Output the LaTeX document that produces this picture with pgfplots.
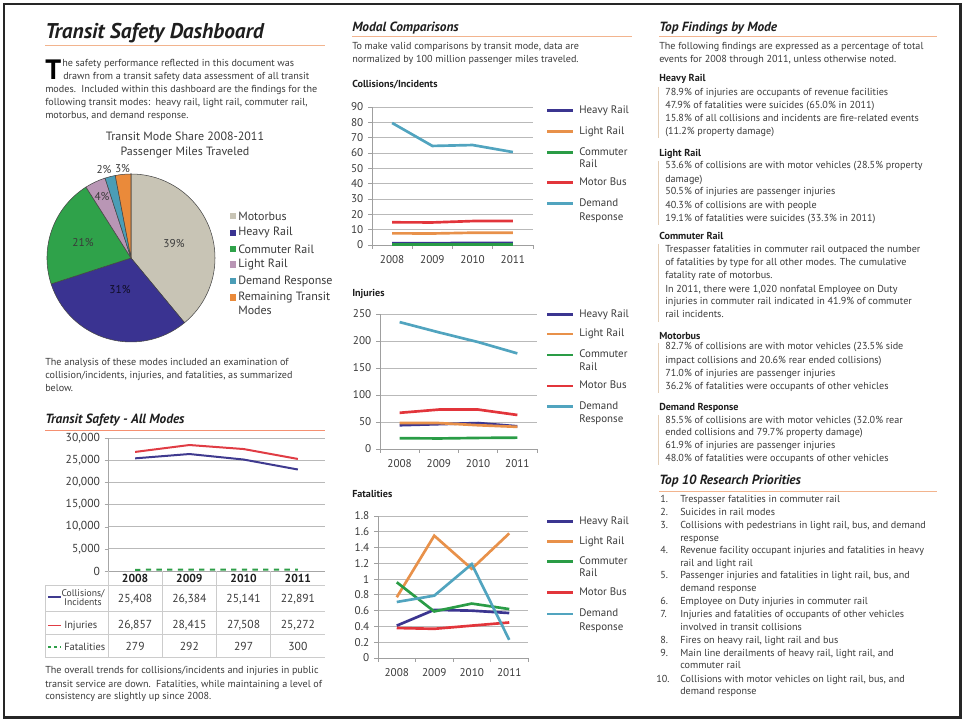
\documentclass[border=0pt]{standalone}
\usepackage{pgfplots}
\pgfplotsset{compat=1.18}
\usepackage{fontspec}
\setmainfont{PT Sans}
\definecolor{txt}{HTML}{3A3A3A}
\definecolor{head}{HTML}{1E1E1E}
\definecolor{rulec}{HTML}{F2B48E}
\definecolor{barc}{HTML}{E3CDB5}
\definecolor{hrc}{HTML}{3B3590}
\definecolor{lrc}{HTML}{E8914A}
\definecolor{crc}{HTML}{2A9C46}
\definecolor{mbc}{HTML}{E2353B}
\definecolor{drc}{HTML}{51A4BF}
\definecolor{pmb}{HTML}{C8C4B5}
\definecolor{phr}{HTML}{3A3391}
\definecolor{pcr}{HTML}{2FA24A}
\definecolor{plr}{HTML}{B996B5}
\definecolor{pdr}{HTML}{4B9DB6}
\definecolor{prm}{HTML}{EA8A3A}
\definecolor{coll}{HTML}{3F3A8F}
\definecolor{inj}{HTML}{E03C44}
\definecolor{fat}{HTML}{2E9E48}
\tikzset{
 body/.style={anchor=base west, inner sep=0pt, font=\fontsize{7.6}{9}\selectfont, text=txt},
 bodyb/.style={anchor=base west, inner sep=0pt, font=\fontsize{7.6}{9}\selectfont\bfseries, text=head},
 sect/.style={anchor=base west, inner sep=0pt, font=\fontsize{10}{12}\selectfont\bfseries\itshape, text=head},
 leg/.style={anchor=base west, inner sep=0pt, font=\fontsize{8.2}{9}\selectfont, text=txt},
}
\newcommand{\tx}[3]{\node[body] at (#1,721-#2) {#3};}
\newcommand{\tb}[3]{\node[bodyb] at (#1,721-#2) {#3};}
\newcommand{\lgl}[2]{\draw[#1, line width=2pt] (547,721-#2) -- (573,721-#2);}
\newcommand{\lgt}[2]{\node[leg] at (579,721-#1-3) {#2};}
\newcommand{\vbar}[2]{\draw[barc, line width=1pt] (658.5,721-#1) -- (658.5,721-#2);}
\pgfplotsset{
 modal/.style={
  scale only axis, anchor=south west,
  xmin=-0.5, xmax=3.5, ymin=0,
  axis x line*=bottom, axis y line*=left,
  axis line style={draw=gray!75, line width=0.6pt},
  ymajorgrids, grid style={draw=gray!55, line width=0.6pt},
  tick align=outside, major tick length=3pt,
  tick style={draw=gray!75, line width=0.6pt},
  xtick={-0.5,0.5,1.5,2.5,3.5}, xticklabels={},
  extra x ticks={0,1,2,3}, extra x tick labels={2008,2009,2010,2011},
  extra x tick style={major tick length=0pt, grid=none, xticklabel style={yshift=-4.5pt}},
  ticklabel style={font=\fontsize{8.4}{9}\selectfont, text=txt},
  /pgf/number format/assume math mode=true,
  every axis plot/.append style={line width=2pt, no markers},
  clip=false,
 }
}
\begin{document}
\begin{tikzpicture}[x=0.75pt,y=0.75pt]
\useasboundingbox (0,0) rectangle (965,721);
\draw[line width=1.6pt, black!85] (4,3.5) rectangle (960.5,717);

% ---------------- Left column ----------------
\node[anchor=base west, inner sep=0pt, font=\fontsize{16}{18}\selectfont\bfseries\itshape, text=head] at (45,721-39) {Transit Safety Dashboard};
\draw[rulec, line width=0.8pt] (45,721-45.5) -- (325,721-45.5);
\node[anchor=base west, inner sep=0pt, font=\fontsize{21}{21}\selectfont\bfseries, text=black] at (45,721-80) {T};
\tx{62}{67}{he safety performance reflected in this document was}
\tx{63}{80}{drawn from a transit safety data assessment of all transit}
\tx{45}{93}{modes.\ \ Included within this dashboard are the findings for the}
\tx{45}{106}{following transit modes:\ \ heavy rail, light rail, commuter rail,}
\tx{45}{119}{motorbus, and demand response.}

\node[anchor=base, inner sep=0pt, font=\fontsize{9}{10}\selectfont, text=txt] at (185,721-141) {Transit Mode Share 2008-2011};
\node[anchor=base, inner sep=0pt, font=\fontsize{9}{10}\selectfont, text=txt] at (185,721-156) {Passenger Miles Traveled};

\begin{axis}[at={(98.25pt,347.25pt)}, anchor=center, scale only axis, width=126pt, height=126pt,
  xmin=-1, xmax=1, ymin=-1, ymax=1, hide axis, clip=false]
\newcommand{\slice}[3]{\filldraw[fill=#3, draw=gray!55!black, line width=0.4pt] (axis cs:0,0) -- ++({90-3.6*#1}:63pt) arc[start angle={90-3.6*#1}, end angle={90-3.6*#2}, radius=63pt] -- cycle;}
\slice{0}{39}{pmb}
\slice{39}{70}{phr}
\slice{70}{91}{pcr}
\slice{91}{95}{plr}
\slice{95}{97}{pdr}
\slice{97}{100}{prm}
\end{axis}
\begin{scope}[every node/.style={font=\fontsize{8.5}{9}\selectfont, text=txt, inner sep=0pt}]
\node at (174,721-244) {39\%};
\node[text=black!75!phr] at (120,721-290) {31\%};
\node at (83,721-243) {21\%};
\node at (102,721-197) {4\%};
\node at (104,721-170) {2\%};
\node at (122.5,721-169) {3\%};
\end{scope}
\begin{scope}[every node/.style={anchor=west, font=\fontsize{9}{10}\selectfont, text=txt, inner sep=0pt}]
\fill[pmb] (229.5,721-219.5) rectangle (236,721-213); \node at (238,721-216) {Motorbus};
\fill[phr] (229.5,721-236.2) rectangle (236,721-229.7); \node at (238,721-232.7) {Heavy Rail};
\fill[pcr] (229.5,721-252.5) rectangle (236,721-246); \node at (238,721-249) {Commuter Rail};
\fill[plr] (229.5,721-268) rectangle (236,721-261.5); \node at (238,721-264.5) {Light Rail};
\fill[pdr] (229.5,721-284.5) rectangle (236,721-278); \node at (238,721-281) {Demand Response};
\fill[prm] (229.5,721-301) rectangle (236,721-294.5); \node at (238,721-297.5) {Remaining Transit};
\node at (238,721-310.5) {Modes};
\end{scope}

\tx{45}{366}{The analysis of these modes included an examination of}
\tx{45}{379}{collision/incidents, injuries, and fatalities, as summarized}
\tx{45}{392}{below.}

\node[sect] at (45,721-424) {Transit Safety - All Modes};
\draw[rulec!80!red, line width=0.7pt] (45,721-430) -- (325,721-430);

\begin{axis}[at={(81pt,112.5pt)}, anchor=south west, scale only axis, width=162.75pt, height=99.75pt,
  xmin=-0.5, xmax=3.5, ymin=0, ymax=30000, ytick={0,5000,...,30000}, scaled y ticks=false,
  yticklabel={\pgfmathprintnumber[fixed,precision=0,1000 sep={,}]{\tick}},
  xtick=\empty, axis x line*=bottom, axis y line*=left,
  axis line style={draw=gray!70, line width=0.6pt},
  ymajorgrids, grid style={draw=gray!55, line width=0.6pt},
  tick align=outside, major tick length=2.5pt, tick style={draw=gray!70},
  ticklabel style={font=\fontsize{8.7}{10}\selectfont, text=txt},
  /pgf/number format/assume math mode=true, clip=false]
\addplot[coll, line width=1.5pt] coordinates {(0,25408)(1,26384)(2,25141)(3,22891)};
\addplot[inj, line width=1.5pt] coordinates {(0,26857)(1,28415)(2,27508)(3,25272)};
\addplot[fat, line width=1.5pt, dash pattern=on 4pt off 4pt] coordinates {(0,279)(1,292)(2,297)(3,300)};
\end{axis}
% table
\begin{scope}[gray!40, line width=0.6pt]
\draw (45,721-585.5) -- (325,721-585.5);
\draw (45,721-611.5) -- (325,721-611.5);
\draw (45,721-634) -- (325,721-634);
\draw (45,721-657.7) -- (325,721-657.7);
\draw (45,721-585.5) -- (45,721-657.7);
\draw (108,721-571) -- (108,721-657.7);
\draw (162.25,721-571) -- (162.25,721-657.7);
\draw (216.5,721-571) -- (216.5,721-657.7);
\draw (270.75,721-571) -- (270.75,721-657.7);
\end{scope}
\begin{scope}[every node/.style={anchor=base, inner sep=0pt, font=\fontsize{8.7}{10}\selectfont, text=txt}]
\node[font=\fontsize{8.7}{10}\selectfont\bfseries, text=head] at (135.1,721-582.5) {2008};
\node[font=\fontsize{8.7}{10}\selectfont\bfseries, text=head] at (189.4,721-582.5) {2009};
\node[font=\fontsize{8.7}{10}\selectfont\bfseries, text=head] at (243.6,721-582.5) {2010};
\node[font=\fontsize{8.7}{10}\selectfont\bfseries, text=head] at (297.9,721-582.5) {2011};
\node at (135.1,721-602.5) {25,408};
\node at (189.4,721-602.5) {26,384};
\node at (243.6,721-602.5) {25,141};
\node at (297.9,721-602.5) {22,891};
\node at (135.1,721-629) {26,857};
\node at (189.4,721-629) {28,415};
\node at (243.6,721-629) {27,508};
\node at (297.9,721-629) {25,272};
\node at (135.1,721-650.5) {279};
\node at (189.4,721-650.5) {292};
\node at (243.6,721-650.5) {297};
\node at (297.9,721-650.5) {300};
\node[font=\fontsize{7.2}{8}\selectfont] at (83,721-597) {Collisions/};
\node[font=\fontsize{7.2}{8}\selectfont] at (83,721-606) {Incidents};
\node[anchor=base west, font=\fontsize{7.8}{9}\selectfont] at (64,721-629) {Injuries};
\node[anchor=base west, font=\fontsize{7.8}{9}\selectfont] at (64,721-650.5) {Fatalities};
\end{scope}
\draw[coll, line width=1.4pt] (48,721-597) -- (61,721-597);
\draw[inj, line width=1.4pt] (48,721-625.5) -- (61,721-625.5);
\draw[fat, line width=1.4pt, dash pattern=on 2.5pt off 2pt] (48,721-646.7) -- (61,721-646.7);

\tx{45}{674}{The overall trends for collisions/incidents and injuries in public}
\tx{45}{687.5}{transit service are down.\ \ Fatalities, while maintaining a level of}
\tx{45}{700}{consistency are slightly up since 2008.}

% ---------------- Middle column ----------------
\node[sect] at (352,721-32) {Modal Comparisons};
\draw[rulec, line width=0.7pt] (352,721-36) -- (632,721-36);
\tx{352}{50}{To make valid comparisons by transit mode, data are}
\tx{352}{63}{normalized by 100 million passenger miles traveled.}
\tb{352}{88}{Collisions/Incidents}

\begin{axis}[modal, at={(279pt,357pt)}, width=120.75pt, height=103.5pt, ymax=90, ytick={0,10,...,90}]
\addplot[hrc] coordinates {(0,1.2)(1,1.2)(2,1.3)(3,1.3)};
\addplot[lrc] coordinates {(0,7.6)(1,7.5)(2,8.0)(3,8.0)};
\addplot[crc] coordinates {(0,0.3)(1,0.3)(2,0.3)(3,0.3)};
\addplot[mbc] coordinates {(0,14.8)(1,14.7)(2,15.6)(3,15.7)};
\addplot[drc] coordinates {(0,79.6)(1,64.6)(2,65.2)(3,60.6)};
\end{axis}
\lgl{hrc}{110.7}\lgt{110.7}{Heavy Rail}
\lgl{lrc}{131.7}\lgt{131.7}{Light Rail}
\lgl{crc}{152.3}\lgt{152.3}{Commuter}\lgt{165}{Rail}
\lgl{mbc}{182.3}\lgt{182.3}{Motor Bus}
\lgl{drc}{203.3}\lgt{203.3}{Demand}\lgt{217.3}{Response}

\tb{352}{297}{Injuries}
\begin{axis}[modal, at={(285pt,204pt)}, width=117.75pt, height=101.25pt, ymax=250, ytick={0,50,...,250}]
\addplot[hrc] coordinates {(0,44)(1,46)(2,48)(3,42)};
\addplot[lrc] coordinates {(0,48)(1,48)(2,44)(3,41)};
\addplot[crc] coordinates {(0,20)(1,19.5)(2,20.5)(3,21)};
\addplot[mbc] coordinates {(0,67)(1,73)(2,73)(3,63)};
\addplot[drc] coordinates {(0,235)(1,216)(2,198)(3,177)};
\end{axis}
\lgl{hrc}{314.3}\lgt{314.3}{Heavy Rail}
\lgl{lrc}{334}\lgt{334}{Light Rail}
\lgl{crc}{355}\lgt{355}{Commuter}\lgt{367.3}{Rail}
\lgl{mbc}{386}\lgt{386}{Motor Bus}
\lgl{drc}{406.7}\lgt{406.7}{Demand}\lgt{420}{Response}

\tb{352}{498}{Fatalities}
\begin{axis}[modal, at={(283.5pt,47.25pt)}, width=112.5pt, height=106.5pt, ymax=1.8,
  ytick={0,0.2,0.4,0.6,0.8,1,1.2,1.4,1.6,1.8}]
\addplot[hrc] coordinates {(0,0.41)(1,0.61)(2,0.60)(3,0.57)};
\addplot[lrc] coordinates {(0,0.77)(1,1.55)(2,1.13)(3,1.58)};
\addplot[crc] coordinates {(0,0.96)(1,0.59)(2,0.69)(3,0.62)};
\addplot[mbc] coordinates {(0,0.38)(1,0.37)(2,0.41)(3,0.45)};
\addplot[drc] coordinates {(0,0.71)(1,0.79)(2,1.19)(3,0.23)};
\end{axis}
\lgl{hrc}{521.7}\lgt{521.7}{Heavy Rail}
\lgl{lrc}{541.7}\lgt{541.7}{Light Rail}
\lgl{crc}{561.7}\lgt{561.7}{Commuter}\lgt{574}{Rail}
\lgl{mbc}{592.7}\lgt{592.7}{Motor Bus}
\lgl{drc}{614}\lgt{614}{Demand}\lgt{627.3}{Response}

% ---------------- Right column ----------------
\node[sect] at (659,721-32) {Top Findings by Mode};
\draw[rulec, line width=0.7pt] (659,721-36) -- (937,721-36);
\tx{659}{50}{The following findings are expressed as a percentage of total}
\tx{659}{63}{events for 2008 through 2011, unless otherwise noted.}

\tb{659}{82}{Heavy Rail}
\vbar{87}{138}
\tx{665}{96}{78.9\% of injuries are occupants of revenue facilities}
\tx{665}{109}{47.9\% of fatalities were suicides (65.0\% in 2011)}
\tx{665}{122}{15.8\% of all collisions and incidents are fire-related events}
\tx{665}{135}{(11.2\% property damage)}

\tb{659}{157}{Light Rail}
\vbar{161}{225}
\tx{665}{169}{53.6\% of collisions are with motor vehicles (28.5\% property}
\tx{665}{182.5}{damage)}
\tx{665}{195}{50.5\% of injuries are passenger injuries}
\tx{665}{208.5}{40.3\% of collisions are with people}
\tx{665}{221.5}{19.1\% of fatalities were suicides (33.3\% in 2011)}

\tb{659}{240}{Commuter Rail}
\vbar{244}{322}
\tx{665}{253}{Trespasser fatalities in commuter rail outpaced the number}
\tx{665}{266}{of fatalities by type for all other modes. The cumulative}
\tx{665}{279}{fatality rate of motorbus.}
\tx{665}{292.5}{In 2011, there were 1,020 nonfatal Employee on Duty}
\tx{665}{305}{injuries in commuter rail indicated in 41.9\% of commuter}
\tx{665}{318}{rail incidents.}

\tb{659}{339.5}{Motorbus}
\vbar{343}{393}
\tx{665}{350}{82.7\% of collisions are with motor vehicles (23.5\% side}
\tx{665}{363.5}{impact collisions and 20.6\% rear ended collisions)}
\tx{665}{376.5}{71.0\% of injuries are passenger injuries}
\tx{665}{390}{36.2\% of fatalities were occupants of other vehicles}

\tb{659}{411}{Demand Response}
\vbar{415}{465}
\tx{665}{423.5}{85.5\% of collisions are with motor vehicles (32.0\% rear}
\tx{665}{436}{ended collisions and 79.7\% property damage)}
\tx{665}{449}{61.9\% of injuries are passenger injuries}
\tx{665}{462}{48.0\% of fatalities were occupants of other vehicles}

\node[sect] at (659,721-485) {Top 10 Research Priorities};
\draw[rulec, line width=0.7pt] (659,721-491) -- (937,721-491);
\tx{660}{503}{1.}\tx{680}{503}{Trespasser fatalities in commuter rail}
\tx{660}{516}{2.}\tx{680}{516}{Suicides in rail modes}
\tx{660}{528.5}{3.}\tx{680}{528.5}{Collisions with pedestrians in light rail, bus, and demand}
\tx{680}{541.5}{response}
\tx{660}{554}{4.}\tx{680}{554}{Revenue facility occupant injuries and fatalities in heavy}
\tx{680}{566.5}{rail and light rail}
\tx{660}{579}{5.}\tx{680}{579}{Passenger injuries and fatalities in light rail, bus, and}
\tx{680}{592}{demand response}
\tx{660}{605}{6.}\tx{680}{605}{Employee on Duty injuries in commuter rail}
\tx{660}{618}{7.}\tx{680}{618}{Injuries and fatalities of occupants of other vehicles}
\tx{680}{631}{involved in transit collisions}
\tx{660}{644}{8.}\tx{680}{644}{Fires on heavy rail, light rail and bus}
\tx{660}{657}{9.}\tx{680}{657}{Main line derailments of heavy rail, light rail, and}
\tx{680}{669}{commuter rail}
\tx{656}{682.5}{10.}\tx{680}{682.5}{Collisions with motor vehicles on light rail, bus, and}
\tx{680}{695}{demand response}
\end{tikzpicture}
\end{document}
